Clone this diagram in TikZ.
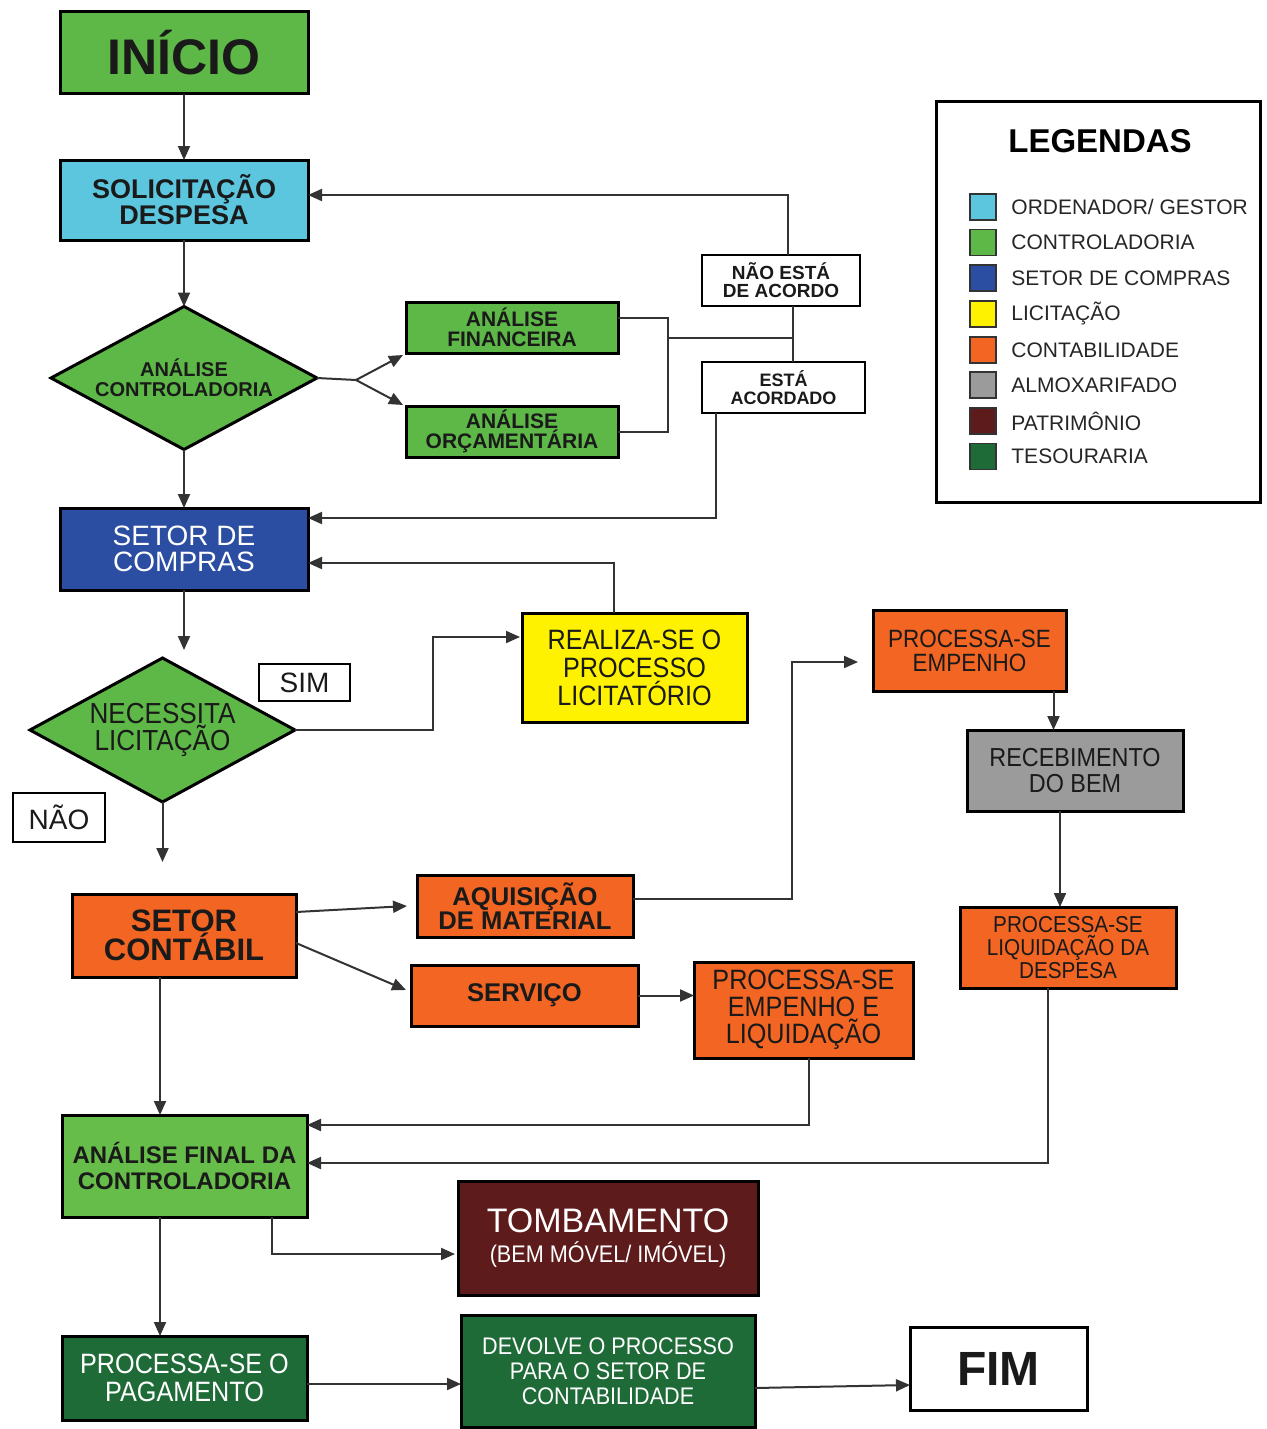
\documentclass[tikz,border=0pt]{standalone}
\usepackage{fontspec}
\setmainfont{Liberation Sans}
\newfontfamily\cf[FakeStretch=0.9]{Liberation Sans}
\usetikzlibrary{shapes.geometric,arrows.meta}
\definecolor{cyanc}{HTML}{5CC6DE}
\definecolor{greenc}{HTML}{5DB847}
\definecolor{greenl}{HTML}{66BD49}
\definecolor{bluec}{HTML}{2B4EA2}
\definecolor{yellowc}{HTML}{FFF200}
\definecolor{orangec}{HTML}{F26522}
\definecolor{grayc}{HTML}{9B9B9B}
\definecolor{maroonc}{HTML}{5E1B1C}
\definecolor{dgreenc}{HTML}{1E6B38}
\definecolor{txt}{HTML}{1A1A1A}
\newcommand\fz[2]{\fontsize{#1}{#2}\selectfont}
\begin{document}
\begin{tikzpicture}[x=0.5pt,y=-0.5pt,
  box/.style={draw=black, line width=1.5pt, inner sep=0pt, outer sep=0pt, align=center, text=txt},
  dia/.style={diamond, draw=black, line width=1.5pt, inner sep=0pt, outer sep=0pt, align=center, aspect=1.86, text=txt},
  lbl/.style={draw=black, line width=1.3pt, fill=white, inner sep=0pt, outer sep=0pt, align=center, text=txt},
  conn/.style={draw=black!80, line width=1pt},
  arr/.style={conn, -{Triangle[length=7pt,width=6pt]}},
  lsq/.style={draw=black!80, line width=0.8pt, minimum size=13pt, inner sep=0pt},
  ltx/.style={anchor=west, inner sep=0pt, text=black!85, font=\fz{10.5}{11}}
]
\path[use as bounding box, fill=white] (0,0) rectangle (1267,1429);

% main nodes
\node[box, fill=greenc, minimum width=124pt, minimum height=41pt, font=\bfseries\fz{25}{25}] (inicio) at (184,53) {INÍCIO};
\node[box, fill=cyanc, minimum width=124pt, minimum height=40pt, font=\bfseries\fz{13.5}{13}] (solic) at (184,200) {SOLICITAÇÃO\\DESPESA};
\node[dia, fill=greenc, minimum width=133pt, minimum height=71.5pt, font=\bfseries\fz{10}{10}] (analise) at (184,378) {ANÁLISE\\CONTROLADORIA};
\node[box, fill=greenc, minimum width=106pt, minimum height=25.5pt, font=\bfseries\fz{10.5}{10}] (fin) at (512,327.5) {ANÁLISE\\FINANCEIRA};
\node[box, fill=greenc, minimum width=106pt, minimum height=25.5pt, font=\bfseries\fz{10.5}{10}] (orc) at (512,431.5) {ANÁLISE\\ORÇAMENTÁRIA};
\node[lbl, minimum width=79pt, minimum height=25.5pt, font=\bfseries\fz{9.5}{9}] (nao) at (781,280.5) {NÃO ESTÁ\\DE ACORDO};
\node[lbl, minimum width=81.5pt, minimum height=25.5pt, font=\bfseries\fz{9}{9}] (acord) at (783.5,387.5) {ESTÁ\\ACORDADO};
\node[box, fill=bluec, text=white, minimum width=124pt, minimum height=41pt, font=\fz{14}{13}] (compras) at (184,549) {SETOR DE\\COMPRAS};
\node[dia, fill=greenc, minimum width=132.5pt, minimum height=72pt, font=\cf\fz{14.5}{13.5}] (necess) at (162.5,730) {NECESSITA\\LICITAÇÃO};
\node[lbl, minimum width=45.5pt, minimum height=18.5pt, font=\fz{14}{14}] (sim) at (304.5,682.5) {SIM};
\node[lbl, minimum width=46pt, minimum height=24.5pt, font=\fz{14}{14}] (naolbl) at (59,817.5) {NÃO};
\node[box, fill=yellowc, minimum width=112.5pt, minimum height=54.5pt, font=\cf\fz{14}{14}] (realiza) at (634.5,667.5) {REALIZA-SE O\\PROCESSO\\LICITATÓRIO};
\node[box, fill=orangec, minimum width=96.5pt, minimum height=40.5pt, font=\cf\fz{12.5}{12}] (empenho) at (969.5,650.5) {PROCESSA-SE\\EMPENHO};
\node[box, fill=grayc, minimum width=108pt, minimum height=40.5pt, font=\cf\fz{13}{13}] (receb) at (1075,770.5) {RECEBIMENTO\\DO BEM};
\node[box, fill=orangec, minimum width=108pt, minimum height=40.5pt, font=\cf\fz{11.5}{11.5}] (liquid) at (1068,947.5) {PROCESSA-SE\\LIQUIDAÇÃO DA\\DESPESA};
\node[box, fill=orangec, minimum width=112pt, minimum height=41.5pt, font=\bfseries\fz{15.5}{14.5}] (contabil) at (184,935.5) {SETOR\\CONTÁBIL};
\node[box, fill=orangec, minimum width=108pt, minimum height=31pt, font=\bfseries\fz{12.8}{12}] (aquis) at (525,906) {AQUISIÇÃO\\DE MATERIAL};
\node[box, fill=orangec, minimum width=113.5pt, minimum height=30.5pt, font=\bfseries\fz{12.8}{12}] (serv) at (524.5,995.5) {SERVIÇO};
\node[box, fill=orangec, minimum width=109.5pt, minimum height=48pt, font=\cf\fz{14}{13.5}] (emp2) at (803.5,1010) {PROCESSA-SE\\EMPENHO E\\LIQUIDAÇÃO};
\node[box, fill=greenl, minimum width=122.5pt, minimum height=51pt, font=\bfseries\fz{12}{13}] (final) at (184.5,1166) {ANÁLISE FINAL DA\\CONTROLADORIA};
\node[box, fill=maroonc, text=white, minimum width=150pt, minimum height=57pt] (tomb) at (608,1238) {{\fz{17}{17}TOMBAMENTO}\\[3pt]{\cf\fz{12}{12}(BEM MÓVEL/ IMÓVEL)}};
\node[box, fill=dgreenc, text=white, minimum width=122.5pt, minimum height=42pt, font=\cf\fz{14}{14}] (pag) at (184.5,1378) {PROCESSA-SE O\\PAGAMENTO};
\node[box, fill=dgreenc, text=white, minimum width=147pt, minimum height=56pt, font=\cf\fz{12}{12.5}] (dev) at (608,1371) {DEVOLVE O PROCESSO\\PARA O SETOR DE\\CONTABILIDADE};
\node[box, fill=white, minimum width=88.5pt, minimum height=41.5pt, font=\bfseries\fz{24}{24}] (fim) at (998.5,1368.5) {FIM};

% connectors
\draw[arr] (inicio.south) -- (solic.north);
\draw[arr] (solic.south) -- (analise.north);
\draw[arr] (analise.south) -- (compras.north);
\coordinate (sp) at (356,380);
\draw[conn] (analise.east) -- (sp);
\draw[arr] (sp) -- ([xshift=-1.5pt,yshift=-1pt]fin.south west);
\draw[arr] (sp) -- ([xshift=-1.5pt,yshift=0.5pt]orc.north west);
\draw[conn] ([yshift=4.75pt]fin.east) -- ++(50,0) |- (orc.east);
\coordinate (j1) at (668,338);
\coordinate (j2) at (793,338);
\draw[conn] (j1) -- (j2);
\draw[conn] (nao.south -| j2) -- (acord.north -| j2);
\draw[arr] ([xshift=3.5pt]nao.north) |- ([yshift=2.5pt]solic.east);
\draw[arr] ([xshift=-33.75pt]acord.south) |- ([yshift=15.5pt]compras.east);
\draw[arr] ([xshift=-10.25pt]realiza.north) |- ([yshift=-7pt]compras.east);
\coordinate (c1) at (184,650);
\draw[arr] (compras.south) -- (c1);
\coordinate (c3) at (433,730);
\draw[arr] (necess.east) -- (c3) |- ([xshift=-1pt,yshift=15.25pt]realiza.west);
\coordinate (c2) at (162.5,862);
\draw[arr] (necess.south) -- (c2);
\draw[arr] ([yshift=11.75pt]contabil.east) -- ([xshift=-5pt]aquis.west);
\draw[arr] ([yshift=-3.75pt]contabil.east) -- ([xshift=-2.5pt,yshift=2.75pt]serv.west);
\draw[arr] ([yshift=3.5pt]aquis.east) -| ([xshift=-40.5pt,yshift=-5.75pt]empenho.west) -- ([xshift=-7.5pt,yshift=-5.75pt]empenho.west);
\draw[arr] ([xshift=42pt]empenho.south) -- ([xshift=42pt]empenho.south |- receb.north);
\draw[arr] ([xshift=-7.5pt]receb.south) -- ([xshift=-7.5pt]receb.south |- liquid.north);
\draw[arr] ([xshift=-10pt]liquid.south) |- ([yshift=1.5pt]final.east);
\draw[arr] (serv.east) -- (serv.east -| emp2.west);
\draw[arr] ([xshift=2.75pt]emp2.south) |- ([yshift=20.5pt]final.east);
\draw[arr] ([xshift=-12pt]contabil.south) -- ([xshift=-12pt]contabil.south |- final.north);
\draw[arr] ([xshift=43.75pt]final.south) |- ([xshift=-1.5pt,yshift=-8pt]tomb.west);
\draw[arr] ([xshift=-12.25pt]final.south) -- ([xshift=-12.25pt]final.south |- pag.north);
\draw[arr] ([yshift=-3pt]pag.east) -- ([yshift=-3pt]pag.east -| dev.west);
\draw[arr] ([yshift=-8.5pt]dev.east) -- ([yshift=-8.25pt]fim.west);

% legend
\node[box, fill=white, minimum width=162pt, minimum height=200pt] (legend) at (1098,302) {};
\node[inner sep=0pt, font=\bfseries\fz{16.5}{16.5}, text=black] (legtitle) at (1100,141) {LEGENDAS};
\node[lsq, fill=cyanc] (sq1) at (983,207) {};
\node[ltx] (lt1) at (1011,207) {ORDENADOR/ GESTOR};
\node[lsq, fill=greenc] (sq2) at (983,242.5) {};
\node[ltx] (lt2) at (1011,242.5) {CONTROLADORIA};
\node[lsq, fill=bluec] (sq3) at (983,278) {};
\node[ltx] (lt3) at (1011,278) {SETOR DE COMPRAS};
\node[lsq, fill=yellowc] (sq4) at (983,314) {};
\node[ltx] (lt4) at (1011,314) {LICITAÇÃO};
\node[lsq, fill=orangec] (sq5) at (983,350) {};
\node[ltx] (lt5) at (1011,350) {CONTABILIDADE};
\node[lsq, fill=grayc] (sq6) at (983,385) {};
\node[ltx] (lt6) at (1011,385) {ALMOXARIFADO};
\node[lsq, fill=maroonc] (sq7) at (983,421) {};
\node[ltx] (lt7) at (1011,421) {PATRIMÔNIO};
\node[lsq, fill=dgreenc] (sq8) at (983,456.5) {};
\node[ltx] (lt8) at (1011,456.5) {TESOURARIA};
\end{tikzpicture}
\end{document}
